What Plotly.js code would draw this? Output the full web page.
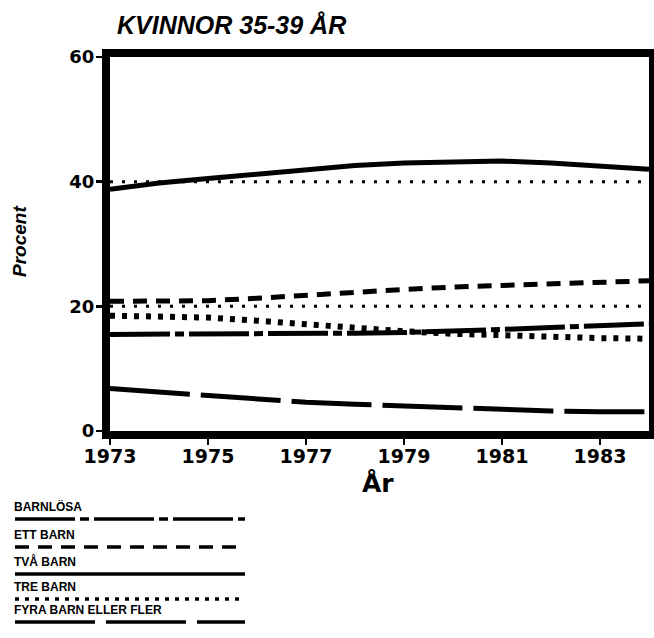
<!DOCTYPE html>
<html>
<head>
<meta charset="utf-8">
<script src="https://cdn.plot.ly/plotly-3.0.1.min.js"></script>
<style>html,body{margin:0;padding:0;background:#fff;}#chart{width:654px;height:638px;}</style>
</head>
<body>
<div id="chart"></div>
<script>
// ---- data ----
const years = [1973,1974,1975,1976,1977,1978,1979,1980,1981,1982,1983,1984];
const barnlosa = [15.5,15.5,15.5,15.5,15.6,15.7,15.8,16.0,16.3,16.6,16.9,17.2];
const ettBarn  = [20.8,20.8,20.9,21.3,21.8,22.2,22.7,23.1,23.4,23.7,24.0,24.1];
const tvaBarn  = [38.8,39.8,40.5,41.2,42.0,42.6,43.0,43.2,43.3,43.0,42.5,42.0];
const treBarn  = [18.5,18.4,18.2,17.7,17.1,16.5,16.0,15.6,15.3,15.1,14.9,14.8];
const fyraBarn = [6.8,6.2,5.7,5.1,4.6,4.3,4.0,3.7,3.4,3.2,3.1,3.1];
const seriesNames = ["BARNLÖSA","ETT BARN","TVÅ BARN","TRE BARN","FYRA BARN ELLER FLER"];
const referenceLevels = [40, 20];
const xTickVals = [1973,1975,1977,1979,1981,1983];
const yTickVals = [0,20,40,60];
const chartTitle = "KVINNOR 35-39 ÅR";
const xTitle = "År";
const yTitle = "Procent";

// ---- styling ----
const W = 654, H = 638;
const px = v => v / W;
const py = v => 1 - v / H;
const dashes = ["60px,5px,9px,5px", "14px,9px", "solid", "5px,7px", "80px,11px"];
const seriesData = [barnlosa, ettBarn, tvaBarn, treBarn, fyraBarn];

const traces = [];
referenceLevels.forEach(lv => {
  traces.push({
    x: [years[0], years[years.length-1]], y: [lv, lv], mode: 'lines',
    line: {color: '#000', width: 3, dash: '3px,9px'}, showlegend: false, hoverinfo: 'skip'
  });
});
seriesData.forEach((d, i) => {
  traces.push({
    x: years, y: d, name: seriesNames[i], mode: 'lines',
    line: {color: '#000', width: i === 3 ? 6 : 5, dash: dashes[i]}, showlegend: false
  });
});

// legend (text with line sample below/after it)
const legRows = [515, 543, 570, 595, 618];
const annotations = [
  {text: yTitle, textangle: -90, xref: 'paper', yref: 'paper', x: px(19), y: py(242),
   xanchor: 'center', yanchor: 'middle', showarrow: false,
   font: {family: 'Liberation Sans, Arial, sans-serif', size: 19, weight: 700, style: 'italic', color: '#000'}},
  {text: xTitle, xref: 'paper', yref: 'paper', x: px(378), y: py(483),
   xanchor: 'center', yanchor: 'middle', showarrow: false,
   font: {family: 'DejaVu Sans, sans-serif', size: 25, weight: 700, color: '#000'}}
];
const shapes = [];
seriesNames.forEach((n, i) => {
  annotations.push({
    text: n, xref: 'paper', yref: 'paper', x: px(13), y: py(legRows[i]),
    xanchor: 'left', yanchor: 'bottom', showarrow: false, borderpad: 0,
    font: {family: 'Liberation Sans, Arial, sans-serif', size: 12, weight: 700, color: '#000'}
  });
  shapes.push({
    type: 'line', xref: 'paper', yref: 'paper',
    x0: px(15), x1: px(245), y0: py(legRows[i] + 4), y1: py(legRows[i] + 4),
    line: {color: '#000', width: 3.5, dash: i === 3 ? '4px,6px' : dashes[i]}
  });
});

const axisFont = {family: 'DejaVu Sans, sans-serif', weight: 700, color: '#000'};
const layout = {
  width: W, height: H,
  margin: {l: 0, r: 0, t: 0, b: 0},
  paper_bgcolor: '#fff', plot_bgcolor: '#fff',
  showlegend: false,
  title: {text: chartTitle, x: px(117), xanchor: 'left', xref: 'paper', y: py(25), yanchor: 'middle',
          font: {family: 'Liberation Sans, Arial, sans-serif', size: 25, weight: 700, style: 'italic', color: '#000'}},
  xaxis: {
    domain: [px(110), px(649)], range: [1973, 1984],
    tickvals: xTickVals, ticktext: xTickVals.map(String),
    ticks: 'outside', ticklen: 6, tickwidth: 2.5, tickcolor: '#000',
    ticklabelstandoff: -5,
    showline: true, linewidth: 8, linecolor: '#000', mirror: true,
    showgrid: false, zeroline: false,
    tickfont: Object.assign({size: 19}, axisFont)
  },
  yaxis: {
    domain: [py(431), py(57)], range: [0, 60],
    tickvals: yTickVals, ticktext: yTickVals.map(String),
    ticks: 'outside', ticklen: 6, tickwidth: 2.5, tickcolor: '#000',
    ticklabelstandoff: -2,
    showline: true, linewidth: 8, linecolor: '#000', mirror: true,
    showgrid: false, zeroline: false,
    tickfont: Object.assign({size: 18}, axisFont)
  },
  annotations: annotations,
  shapes: shapes
};

Plotly.newPlot('chart', traces, layout, {displayModeBar: false, staticPlot: true});
</script>
</body>
</html>
